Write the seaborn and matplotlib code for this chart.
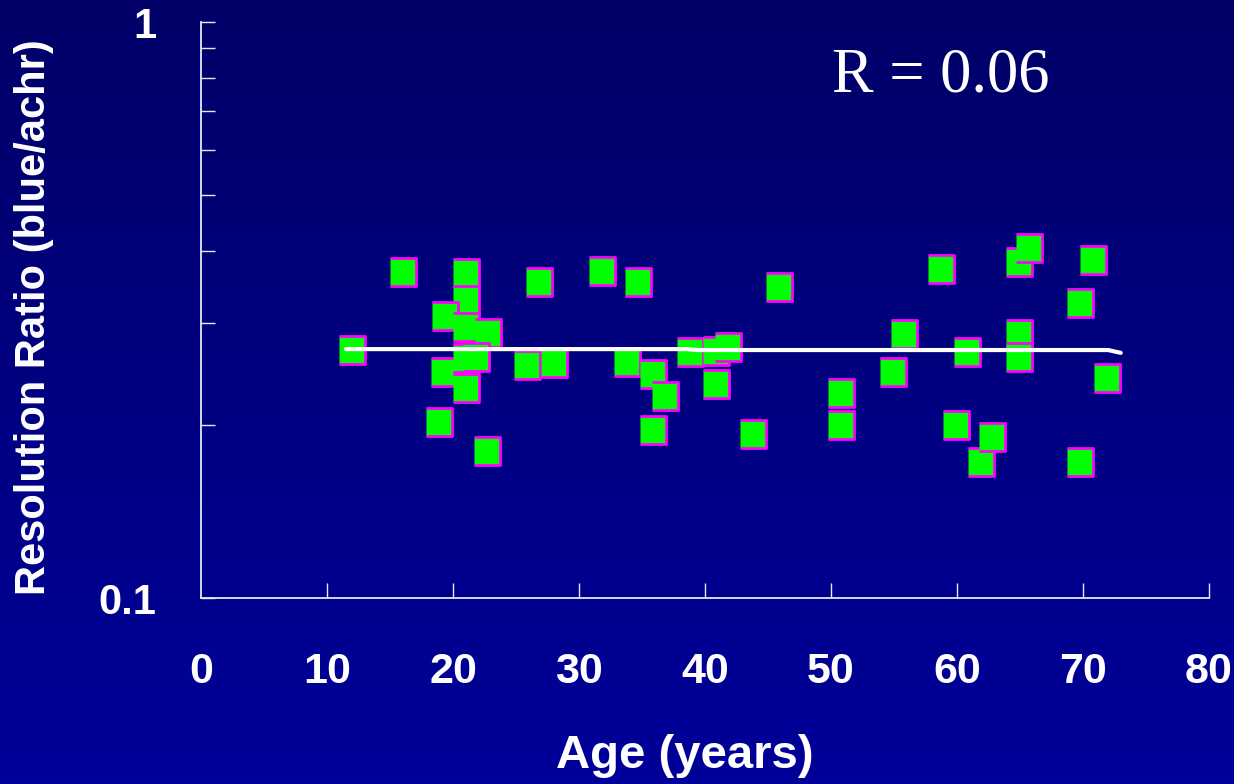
import numpy as np
import pandas as pd
import matplotlib
matplotlib.use("Agg")
import matplotlib.pyplot as plt
import matplotlib.ticker as mticker
from matplotlib.colors import LinearSegmentedColormap
import seaborn as sns

# data
age = [12, 16, 21, 21, 19.4, 21, 22.8, 19.3, 21, 21.8, 21, 18.9, 22.7,
       26.8, 25.9, 28, 31.8, 34.7, 33.8, 35.9, 36.8, 35.9, 38.8, 40.9, 41.8, 40.9,
       45.9, 43.8, 50.8, 50.8, 54.9, 55.8, 58.7, 59.9, 60.8, 61.9, 62.8,
       64.9, 64.9, 64.9, 65.7, 69.8, 69.8, 70.8, 71.9]
ratio = [0.270, 0.368, 0.366, 0.329, 0.309, 0.296, 0.288, 0.247, 0.261, 0.262, 0.232, 0.202, 0.180,
         0.354, 0.254, 0.256, 0.370, 0.354, 0.257, 0.245, 0.224, 0.196, 0.267, 0.268, 0.273, 0.235,
         0.347, 0.193, 0.227, 0.200, 0.247, 0.287, 0.372, 0.200, 0.267, 0.172, 0.1905,
         0.383, 0.287, 0.262, 0.406, 0.325, 0.172, 0.386, 0.241]

fit_age = [11.5, 38.5, 39.5, 72.0, 73.0]
fit_ratio = [0.2705, 0.2705, 0.2695, 0.2695, 0.2665]

x_ticks = [0, 10, 20, 30, 40, 50, 60, 70, 80]

df = pd.DataFrame({"age": age, "ratio": ratio})
fit_df = pd.DataFrame({"age": fit_age, "ratio": fit_ratio})

sns.set_style("white")
plt.rcParams["font.family"] = ["Liberation Sans", "DejaVu Sans"]

fig = plt.figure(figsize=(12.34, 7.84), dpi=100)

# background gradient
bg = fig.add_axes([0, 0, 1, 1], zorder=-10)
cmap = LinearSegmentedColormap.from_list("bg", ["#000068", "#00009a"])
bg.imshow(np.linspace(0, 1, 256).reshape(-1, 1), aspect="auto", cmap=cmap,
          extent=[0, 1, 0, 1])
bg.set_axis_off()

ax = fig.add_axes([0.1629, 0.2372, 0.8168, 0.7347])
ax.set_facecolor("none")

box = [(-0.93, -1), (0.93, -1), (0.93, 1), (-0.93, 1)]
sns.scatterplot(data=df, x="age", y="ratio", ax=ax, marker=box, s=430,
                color="#00ff00", edgecolor="#ff00ff", linewidth=2.0, zorder=3)
sns.lineplot(data=fit_df, x="age", y="ratio", ax=ax, color="white",
             linewidth=3, zorder=4)

ax.set_yscale("log")
ax.set_xlim(0, 80)
ax.set_ylim(0.1, 1)
ax.set_xticks(x_ticks[1:])
ax.set_xticklabels([])
ax.yaxis.set_major_locator(mticker.FixedLocator([0.1, 1]))
ax.yaxis.set_minor_locator(mticker.FixedLocator([0.2, 0.3, 0.4, 0.5, 0.6, 0.7, 0.8, 0.9]))
ax.yaxis.set_major_formatter(mticker.FixedFormatter(["0.1", "1"]))
ax.yaxis.set_minor_formatter(mticker.NullFormatter())

for s in ["top", "right"]:
    ax.spines[s].set_visible(False)
for s in ["left", "bottom"]:
    ax.spines[s].set_color("#e8e8f0")
    ax.spines[s].set_linewidth(1.3)

ax.tick_params(axis="x", which="major", direction="in", length=11, width=1,
               color="#e8e8f0", bottom=True)
ax.tick_params(axis="y", which="both", direction="in", length=10, width=1,
               color="#e8e8f0", labelsize=30, labelcolor="white", pad=32,
               left=True)
for lbl in ax.get_yticklabels():
    lbl.set_fontweight("bold")

# x tick labels placed under each tick
for v in x_ticks:
    ax.text(v, -0.128, str(v), transform=ax.get_xaxis_transform(),
            ha="center", va="center", color="white", fontsize=31,
            fontweight="bold")

ax.set_xlabel("Age (years)", color="white", fontsize=34, fontweight="bold")
ax.xaxis.set_label_coords(0.480, -0.236)
ax.xaxis.label.set_va("top")
ax.set_ylabel("Resolution Ratio (blue/achr)", color="white", fontsize=30,
              fontweight="bold")
ax.yaxis.set_label_coords(-0.166, 0.488)
ax.yaxis.label.set_va("center")

fig.text(0.674, 0.883, "R = 0.06", color="white", fontsize=45,
         family=["Liberation Serif", "DejaVu Serif"], va="baseline", ha="left")

fig.savefig("out.png", dpi=100)
